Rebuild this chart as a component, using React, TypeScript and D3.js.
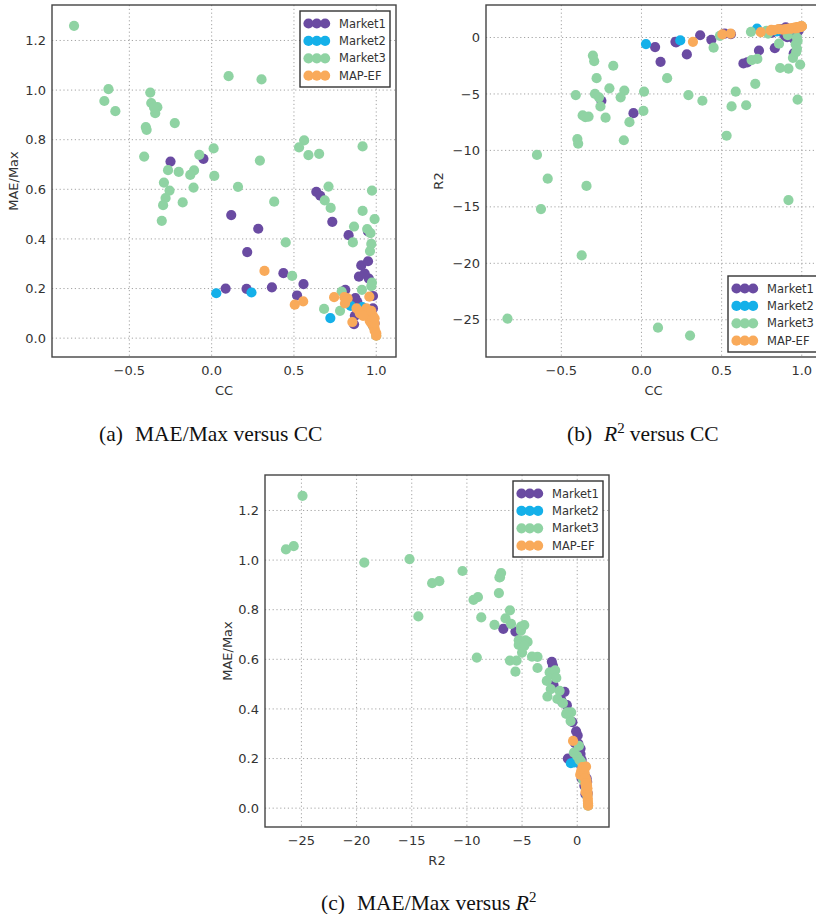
import React from "react";
import * as d3 from "d3";

// ---------- data: [CC, MAE/Max, R2] per point ----------
const market1: number[][] = [
  [-0.25, 0.712, -5.6], [-0.05, 0.723, -6.7], [0.636, 0.59, -2.3], [0.66, 0.574, -2.2],
  [0.119, 0.496, -2.15], [0.283, 0.441, -1.5], [0.216, 0.347, -0.44], [0.436, 0.262, -0.2],
  [0.085, 0.2, -0.85], [0.212, 0.199, -0.38], [0.366, 0.205, 0.2], [0.558, 0.218, 0.3],
  [0.519, 0.172, 0.35], [0.733, 0.469, -1.15], [0.832, 0.415, -0.94], [0.95, 0.43, -1.4],
  [0.909, 0.293, 0.04], [0.895, 0.248, 0.15], [0.955, 0.24, 0.3], [0.812, 0.195, 0.4],
  [0.873, 0.161, 0.5], [0.98, 0.17, 0.6], [0.865, 0.056, 0.75], [0.885, 0.146, 0.55],
  [0.87, 0.09, 0.65], [0.95, 0.09, 0.8], [0.93, 0.26, 0.1], [0.95, 0.31, -0.1],
  [0.92, 0.12, 0.4], [0.98, 0.12, 0.85], [0.99, 0.06, 0.95], [0.9, 0.105, 0.9],
];
const market2: number[][] = [
  [0.028, 0.181, -0.58], [0.242, 0.184, -0.26], [0.721, 0.081, 0.8], [0.845, 0.13, 0.55],
  [0.915, 0.125, 0.65], [0.94, 0.1, 0.75], [0.98, 0.05, 0.9],
];
const market3: number[][] = [
  [-0.836, 1.259, -24.9], [0.103, 1.056, -25.7], [0.303, 1.043, -26.4], [-0.627, 1.004, -15.2],
  [-0.373, 0.99, -19.3], [-0.652, 0.956, -10.4], [-0.585, 0.915, -12.5], [-0.367, 0.948, -6.9],
  [-0.33, 0.931, -7.0], [-0.343, 0.907, -13.15], [-0.4, 0.851, -9.0], [-0.395, 0.84, -9.4],
  [-0.224, 0.867, -7.1], [-0.41, 0.732, -5.1], [0.917, 0.773, -14.4], [0.012, 0.765, -6.5],
  [-0.075, 0.739, -7.5], [-0.265, 0.677, -5.3], [-0.2, 0.67, -4.5], [-0.107, 0.676, -4.7],
  [-0.13, 0.658, -5.3], [0.016, 0.654, -4.8], [-0.29, 0.627, -5.0], [-0.256, 0.595, -6.1],
  [-0.11, 0.607, -9.1], [0.16, 0.61, -3.6], [0.293, 0.716, -5.1], [0.562, 0.797, -6.1],
  [0.531, 0.769, -8.7], [0.588, 0.738, -4.8], [0.653, 0.743, -6.0], [0.38, 0.55, -5.6],
  [0.71, 0.611, -4.1], [0.974, 0.595, -5.5], [-0.28, 0.565, -3.6], [-0.295, 0.536, -2.1],
  [-0.303, 0.473, -1.6], [-0.176, 0.547, -2.5], [0.687, 0.555, -2.0], [0.723, 0.525, -1.9],
  [0.917, 0.513, -2.76], [0.865, 0.45, -2.7], [0.945, 0.44, -1.8], [0.99, 0.48, -2.4],
  [0.965, 0.423, -1.3], [0.858, 0.386, -0.55], [0.97, 0.38, -1.0], [0.962, 0.351, -0.6],
  [0.45, 0.386, -0.9], [0.489, 0.251, 0.15], [0.974, 0.224, -0.3], [0.97, 0.21, 0.0],
  [0.913, 0.195, 0.2], [0.79, 0.188, 0.35], [0.683, 0.118, 0.5], [0.78, 0.11, 0.6],
  [0.96, 0.08, 0.8], [1.0, 0.01, 0.98], [-0.35, 0.93, -7.05],
];
const mapEF: number[][] = [
  [0.321, 0.271, -0.38], [0.505, 0.135, 0.27], [0.556, 0.148, 0.35], [0.744, 0.165, 0.47],
  [0.806, 0.165, 0.6], [0.826, 0.16, 0.65], [0.81, 0.14, 0.68], [0.855, 0.065, 0.75],
  [0.958, 0.167, 0.8], [0.93, 0.11, 0.8], [0.94, 0.1, 0.82], [0.95, 0.09, 0.85],
  [0.96, 0.1, 0.86], [0.97, 0.08, 0.88], [0.97, 0.06, 0.9], [0.98, 0.07, 0.91],
  [0.98, 0.05, 0.93], [0.99, 0.04, 0.95], [0.99, 0.03, 0.96], [1.0, 0.02, 0.98],
  [0.98, 0.09, 0.89], [0.96, 0.07, 0.87], [0.99, 0.06, 0.94], [1.0, 0.01, 0.99],
  [0.94, 0.12, 0.78], [0.97, 0.11, 0.84], [0.99, 0.08, 0.92], [0.88, 0.12, 0.7],
  [0.9, 0.1, 0.75], [0.92, 0.09, 0.78],
];

const seriesNames = ["Market1", "Market2", "Market3", "MAP-EF"];
const seriesData = [market1, market2, market3, mapEF];
const seriesColors = ["#6a4ba2", "#14b0e9", "#8fd3a3", "#f9aa5a"];

const ccTicks = [-0.5, 0.0, 0.5, 1.0];
const maeTicks = [0.0, 0.2, 0.4, 0.6, 0.8, 1.0, 1.2];
const r2Ticks = [-25, -20, -15, -10, -5, 0];

const ccDomain = [-0.97, 1.12];
const maeDomain = [-0.076, 1.343];
const r2Domain = [-28.3, 2.88];

// ---------- layout ----------
type PanelCfg = {
  box: { l: number; t: number; r: number; b: number };
  xi: number; yi: number;
  xDomain: number[]; yDomain: number[];
  xTicks: number[]; yTicks: number[];
  xFmt: (v: number) => string; yFmt: (v: number) => string;
  xLabel: string; yLabel: string; yLabelX: number;
  legend: "tr" | "br"; legInset: number;
};

const fmt1 = (v: number) => d3.format(".1f")(v).replace("-", "\u2212");
const fmt0 = (v: number) => d3.format("d")(v).replace("-", "\u2212");

const panels: PanelCfg[] = [
  {
    box: { l: 52, t: 5, r: 396, b: 357 }, xi: 0, yi: 1,
    xDomain: ccDomain, yDomain: maeDomain, xTicks: ccTicks, yTicks: maeTicks,
    xFmt: fmt1, yFmt: fmt1, xLabel: "CC", yLabel: "MAE/Max", yLabelX: 13, legend: "tr", legInset: 6,
  },
  {
    box: { l: 486, t: 5, r: 821, b: 357 }, xi: 0, yi: 2,
    xDomain: ccDomain, yDomain: r2Domain, xTicks: ccTicks, yTicks: r2Ticks,
    xFmt: fmt1, yFmt: fmt0, xLabel: "CC", yLabel: "R2", yLabelX: 438, legend: "br", legInset: 3,
  },
  {
    box: { l: 265, t: 475, r: 609, b: 827 }, xi: 2, yi: 1,
    xDomain: r2Domain, yDomain: maeDomain, xTicks: r2Ticks, yTicks: maeTicks,
    xFmt: fmt0, yFmt: fmt1, xLabel: "R2", yLabel: "MAE/Max", yLabelX: 227, legend: "tr", legInset: 6,
  },
];

const SANS = "'DejaVu Sans', sans-serif";
const SERIF = "'Liberation Serif', 'Times New Roman', serif";
const TXT = "#333";
const R = 5.1;

function Panel({ cfg, idx }: { cfg: PanelCfg; idx: number }) {
  const { box } = cfg;
  const x = d3.scaleLinear().domain(cfg.xDomain).range([box.l, box.r]);
  const y = d3.scaleLinear().domain(cfg.yDomain).range([box.b, box.t]);
  const legW = 90, legH = 76;
  const legX = box.r - cfg.legInset - legW;
  const legY = cfg.legend === "tr" ? box.t + 6 : box.b - 5 - legH;
  const clipId = `clip-${idx}`;
  return (
    <g>
      <defs>
        <clipPath id={clipId}>
          <rect x={box.l} y={box.t} width={box.r - box.l} height={box.b - box.t} />
        </clipPath>
      </defs>
      <rect x={box.l} y={box.t} width={box.r - box.l} height={box.b - box.t} fill="#fff" />
      {/* grid */}
      <g stroke="#9a9a9a" strokeWidth={0.9} strokeDasharray="1.2,2.6">
        {cfg.xTicks.map((t) => (
          <line key={"gx" + t} x1={x(t)} x2={x(t)} y1={box.t} y2={box.b} />
        ))}
        {cfg.yTicks.map((t) => (
          <line key={"gy" + t} x1={box.l} x2={box.r} y1={y(t)} y2={y(t)} />
        ))}
      </g>
      {/* points */}
      <g clipPath={`url(#${clipId})`}>
        {seriesData.map((pts, si) => (
          <g key={si} fill={seriesColors[si]}>
            {pts.map((p, i) => (
              <circle key={i} cx={x(p[cfg.xi])} cy={y(p[cfg.yi])} r={R} />
            ))}
          </g>
        ))}
      </g>
      {/* frame */}
      <rect x={box.l} y={box.t} width={box.r - box.l} height={box.b - box.t}
        fill="none" stroke="#444" strokeWidth={1.4} />
      {/* tick labels */}
      <g fontFamily={SANS} fontSize={13} fill={TXT}>
        {cfg.xTicks.map((t) => (
          <text key={"tx" + t} x={x(t)} y={box.b + 18} textAnchor="middle">{cfg.xFmt(t)}</text>
        ))}
        {cfg.yTicks.map((t) => (
          <text key={"ty" + t} x={box.l - 6} y={y(t) + 4.6} textAnchor="end">{cfg.yFmt(t)}</text>
        ))}
        <text x={(box.l + box.r) / 2} y={box.b + 38} textAnchor="middle">{cfg.xLabel}</text>
        <text transform={`translate(${cfg.yLabelX + 4.6},${(box.t + box.b) / 2}) rotate(-90)`}
          textAnchor="middle">{cfg.yLabel}</text>
      </g>
      {/* legend */}
      <g>
        <rect x={legX} y={legY} width={legW} height={legH} fill="#fff" stroke="#333" strokeWidth={1.4} />
        {seriesNames.map((name, si) => {
          const cy = legY + 12.5 + si * 17.4;
          return (
            <g key={name}>
              {[0, 1, 2].map((k) => (
                <circle key={k} cx={legX + 8.5 + k * 8.3} cy={cy} r={R} fill={seriesColors[si]} />
              ))}
              <text x={legX + 39} y={cy + 4} fontFamily={SANS} fontSize={11.5} fill={TXT}>{name}</text>
            </g>
          );
        })}
      </g>
    </g>
  );
}

export default function App() {
  return (
    <svg width={816} height={914} viewBox="0 0 816 914"
      style={{ position: "absolute", left: 0, top: 0, background: "#fff" }}>
      <rect x={0} y={0} width={816} height={914} fill="#fff" />
      {panels.map((p, i) => (
        <Panel key={i} cfg={p} idx={i} />
      ))}
      <g fontFamily={SERIF} fontSize={21.5} fill="#111">
        <text x={99} y={441}>
          <tspan>(a)</tspan>
          <tspan dx={12}>MAE/Max versus CC</tspan>
        </text>
        <text x={567} y={441}>
          <tspan>(b)</tspan>
          <tspan dx={12} fontStyle="italic">R</tspan>
          <tspan dy={-8} fontSize={15}>2</tspan>
          <tspan dy={8} dx={5}>versus CC</tspan>
        </text>
        <text x={321} y={910}>
          <tspan>(c)</tspan>
          <tspan dx={12}>MAE/Max versus </tspan>
          <tspan fontStyle="italic">R</tspan>
          <tspan dy={-8} fontSize={15}>2</tspan>
        </text>
      </g>
    </svg>
  );
}
